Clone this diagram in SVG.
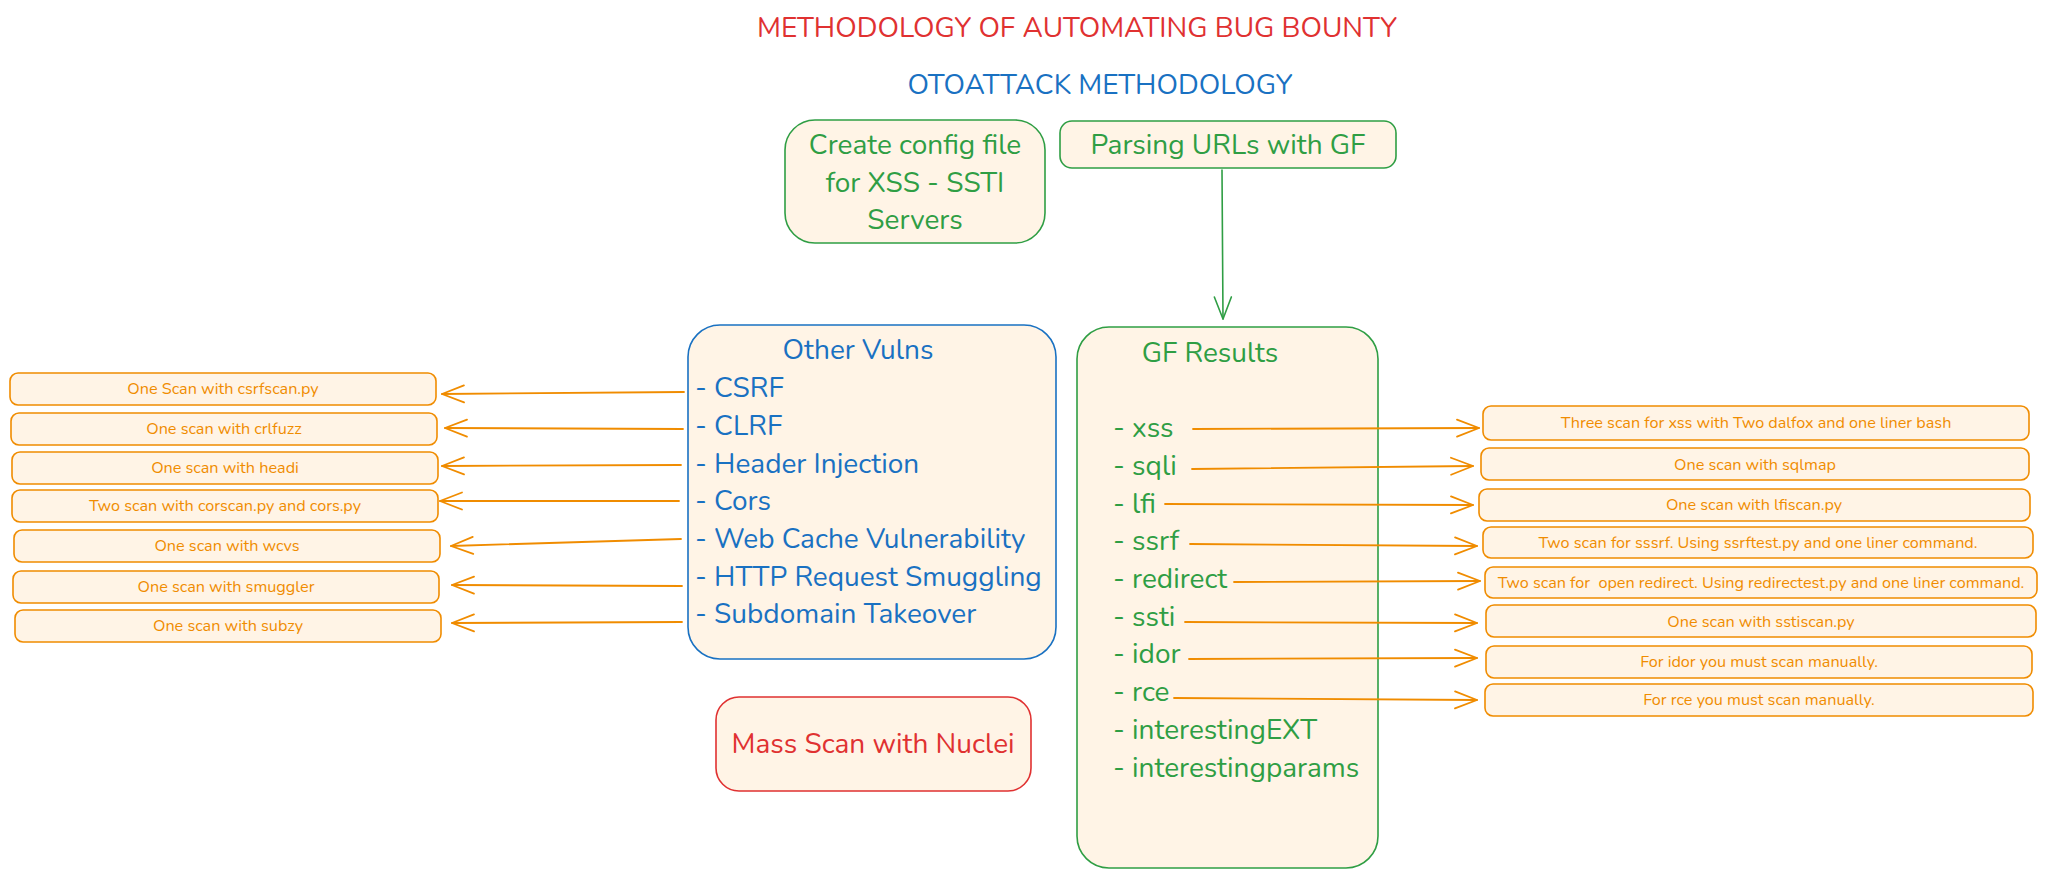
<svg xmlns="http://www.w3.org/2000/svg" width="2046" height="878" viewBox="0 0 2046 878">
<defs>
<style>
text{font-family:Nunito,Lato,"Liberation Sans",sans-serif}
.bx{fill:#fff4e6;stroke-width:1.6}
.g{stroke:#2f9e44}.b{stroke:#1971c2}.r{stroke:#e03131}.o{stroke:#f08c00}
.tg{fill:#2f9e44}.tb{fill:#1971c2}.tr{fill:#e03131}
.big{font-size:28px}
.mid{text-anchor:middle}
.ot{font-size:16.2px;fill:#f08c00;text-anchor:middle;white-space:pre}
.c{fill:none;stroke:#f08c00;stroke-width:1.8;stroke-linecap:round}
.cg{fill:none;stroke:#2f9e44;stroke-width:1.6;stroke-linecap:round}
</style>
<marker id="ao" markerUnits="userSpaceOnUse" markerWidth="26" markerHeight="22" refX="23" refY="10" orient="auto" overflow="visible">
<path d="M1,1.5 L23,10 L1,18.5" fill="none" stroke="#f08c00" stroke-width="1.8" stroke-linecap="round" stroke-linejoin="round"/>
</marker>
<marker id="ag" markerUnits="userSpaceOnUse" markerWidth="26" markerHeight="22" refX="23" refY="10" orient="auto" overflow="visible">
<path d="M1,1.5 L23,10 L1,18.5" fill="none" stroke="#2f9e44" stroke-width="1.6" stroke-linecap="round" stroke-linejoin="round"/>
</marker>
</defs>
<rect width="2046" height="878" fill="#ffffff"/>

<g id="title">
<text x="1077" y="37" class="big tr mid">METHODOLOGY OF AUTOMATING BUG BOUNTY</text>
</g>
<g id="subtitle">
<text x="1100" y="94" class="big tb mid">OTOATTACK METHODOLOGY</text>
</g>

<g id="config">
<rect class="bx g" x="785" y="120" width="260" height="123" rx="30"/>
<text class="big tg mid" x="915" y="154">Create config file</text>
<text class="big tg mid" x="915" y="192">for XSS - SSTI</text>
<text class="big tg mid" x="915" y="229">Servers</text>
</g>

<g id="parse">
<rect class="bx g" x="1060" y="121" width="336" height="47" rx="12"/>
<text class="big tg mid" x="1228" y="154">Parsing URLs with GF</text>
</g>

<g id="other-vulns">
<rect class="bx b" x="688" y="325" width="368" height="334" rx="32"/>
<text class="big tb mid" x="858" y="359">Other Vulns</text>
<text class="big tb" x="695" y="397">- CSRF</text>
<text class="big tb" x="695" y="435">- CLRF</text>
<text class="big tb" x="695" y="473">- Header Injection</text>
<text class="big tb" x="695" y="510">- Cors</text>
<text class="big tb" x="695" y="548">- Web Cache Vulnerability</text>
<text class="big tb" x="695" y="586">- HTTP Request Smuggling</text>
<text class="big tb" x="695" y="623">- Subdomain Takeover</text>
</g>

<g id="mass-scan">
<rect class="bx r" x="716" y="697" width="315" height="94" rx="23"/>
<text class="big tr mid" x="873" y="753">Mass Scan with Nuclei</text>
</g>

<g id="gf-results">
<rect class="bx g" x="1077" y="327" width="301" height="541" rx="32"/>
<text class="big tg mid" x="1210" y="362">GF Results</text>
<text class="big tg" x="1113" y="437">- xss</text>
<text class="big tg" x="1113" y="475">- sqli</text>
<text class="big tg" x="1113" y="513">- lfi</text>
<text class="big tg" x="1113" y="550">- ssrf</text>
<text class="big tg" x="1113" y="588">- redirect</text>
<text class="big tg" x="1113" y="626">- ssti</text>
<text class="big tg" x="1113" y="663">- idor</text>
<text class="big tg" x="1113" y="701">- rce</text>
<text class="big tg" x="1113" y="739">- interestingEXT</text>
<text class="big tg" x="1113" y="777">- interestingparams</text>
</g>

<g id="l1"><rect class="bx o" x="10" y="373" width="426" height="32" rx="8"/><text class="ot" x="223" y="394">One Scan with csrfscan.py</text></g>
<g id="l2"><rect class="bx o" x="11" y="413" width="426" height="32" rx="8"/><text class="ot" x="224" y="434">One scan with crlfuzz</text></g>
<g id="l3"><rect class="bx o" x="12" y="452" width="426" height="32" rx="8"/><text class="ot" x="225" y="473">One scan with headi</text></g>
<g id="l4"><rect class="bx o" x="12" y="490" width="426" height="32" rx="8"/><text class="ot" x="225" y="511">Two scan with corscan.py and cors.py</text></g>
<g id="l5"><rect class="bx o" x="14" y="530" width="426" height="32" rx="8"/><text class="ot" x="227" y="551">One scan with wcvs</text></g>
<g id="l6"><rect class="bx o" x="13" y="571" width="426" height="32" rx="8"/><text class="ot" x="226" y="592">One scan with smuggler</text></g>
<g id="l7"><rect class="bx o" x="15" y="610" width="426" height="32" rx="8"/><text class="ot" x="228" y="631">One scan with subzy</text></g>

<g id="r1"><rect class="bx o" x="1483" y="406" width="546" height="34" rx="8"/><text class="ot" x="1756" y="428">Three scan for xss with Two dalfox and one liner bash</text></g>
<g id="r2"><rect class="bx o" x="1481" y="448" width="548" height="32" rx="8"/><text class="ot" x="1755" y="470">One scan with sqlmap</text></g>
<g id="r3"><rect class="bx o" x="1479" y="489" width="551" height="32" rx="8"/><text class="ot" x="1754" y="510">One scan with lfiscan.py</text></g>
<g id="r4"><rect class="bx o" x="1483" y="527" width="550" height="31" rx="8"/><text class="ot" x="1758" y="548">Two scan for sssrf. Using ssrftest.py and one liner command.</text></g>
<g id="r5"><rect class="bx o" x="1485" y="567" width="552" height="31" rx="8"/><text class="ot" x="1761" y="588">Two scan for  open redirect. Using redirectest.py and one liner command.</text></g>
<g id="r6"><rect class="bx o" x="1486" y="605" width="550" height="32" rx="8"/><text class="ot" x="1761" y="627">One scan with sstiscan.py</text></g>
<g id="r7"><rect class="bx o" x="1486" y="646" width="546" height="32" rx="8"/><text class="ot" x="1759" y="667">For idor you must scan manually.</text></g>
<g id="r8"><rect class="bx o" x="1485" y="684" width="548" height="32" rx="8"/><text class="ot" x="1759" y="705">For rce you must scan manually.</text></g>

<g id="connectors">
<path class="cg" d="M1222,170 L1223,319" marker-end="url(#ag)"/>
<path class="c" d="M684,392 L442,394" marker-end="url(#ao)"/>
<path class="c" d="M683,429 L445,428" marker-end="url(#ao)"/>
<path class="c" d="M681,465 L442,466" marker-end="url(#ao)"/>
<path class="c" d="M679,501 L440,501" marker-end="url(#ao)"/>
<path class="c" d="M681,539 L451,546" marker-end="url(#ao)"/>
<path class="c" d="M682,586 L452,585" marker-end="url(#ao)"/>
<path class="c" d="M682,622 L452,623" marker-end="url(#ao)"/>
<path class="c" d="M1193,429 L1479,428" marker-end="url(#ao)"/>
<path class="c" d="M1192,469 L1473,466" marker-end="url(#ao)"/>
<path class="c" d="M1165,504 L1473,505" marker-end="url(#ao)"/>
<path class="c" d="M1190,544 L1477,546" marker-end="url(#ao)"/>
<path class="c" d="M1234,582 L1480,581" marker-end="url(#ao)"/>
<path class="c" d="M1185,622 L1477,623" marker-end="url(#ao)"/>
<path class="c" d="M1189,659 L1477,658" marker-end="url(#ao)"/>
<path class="c" d="M1174,698 L1477,700" marker-end="url(#ao)"/>
</g>
</svg>
